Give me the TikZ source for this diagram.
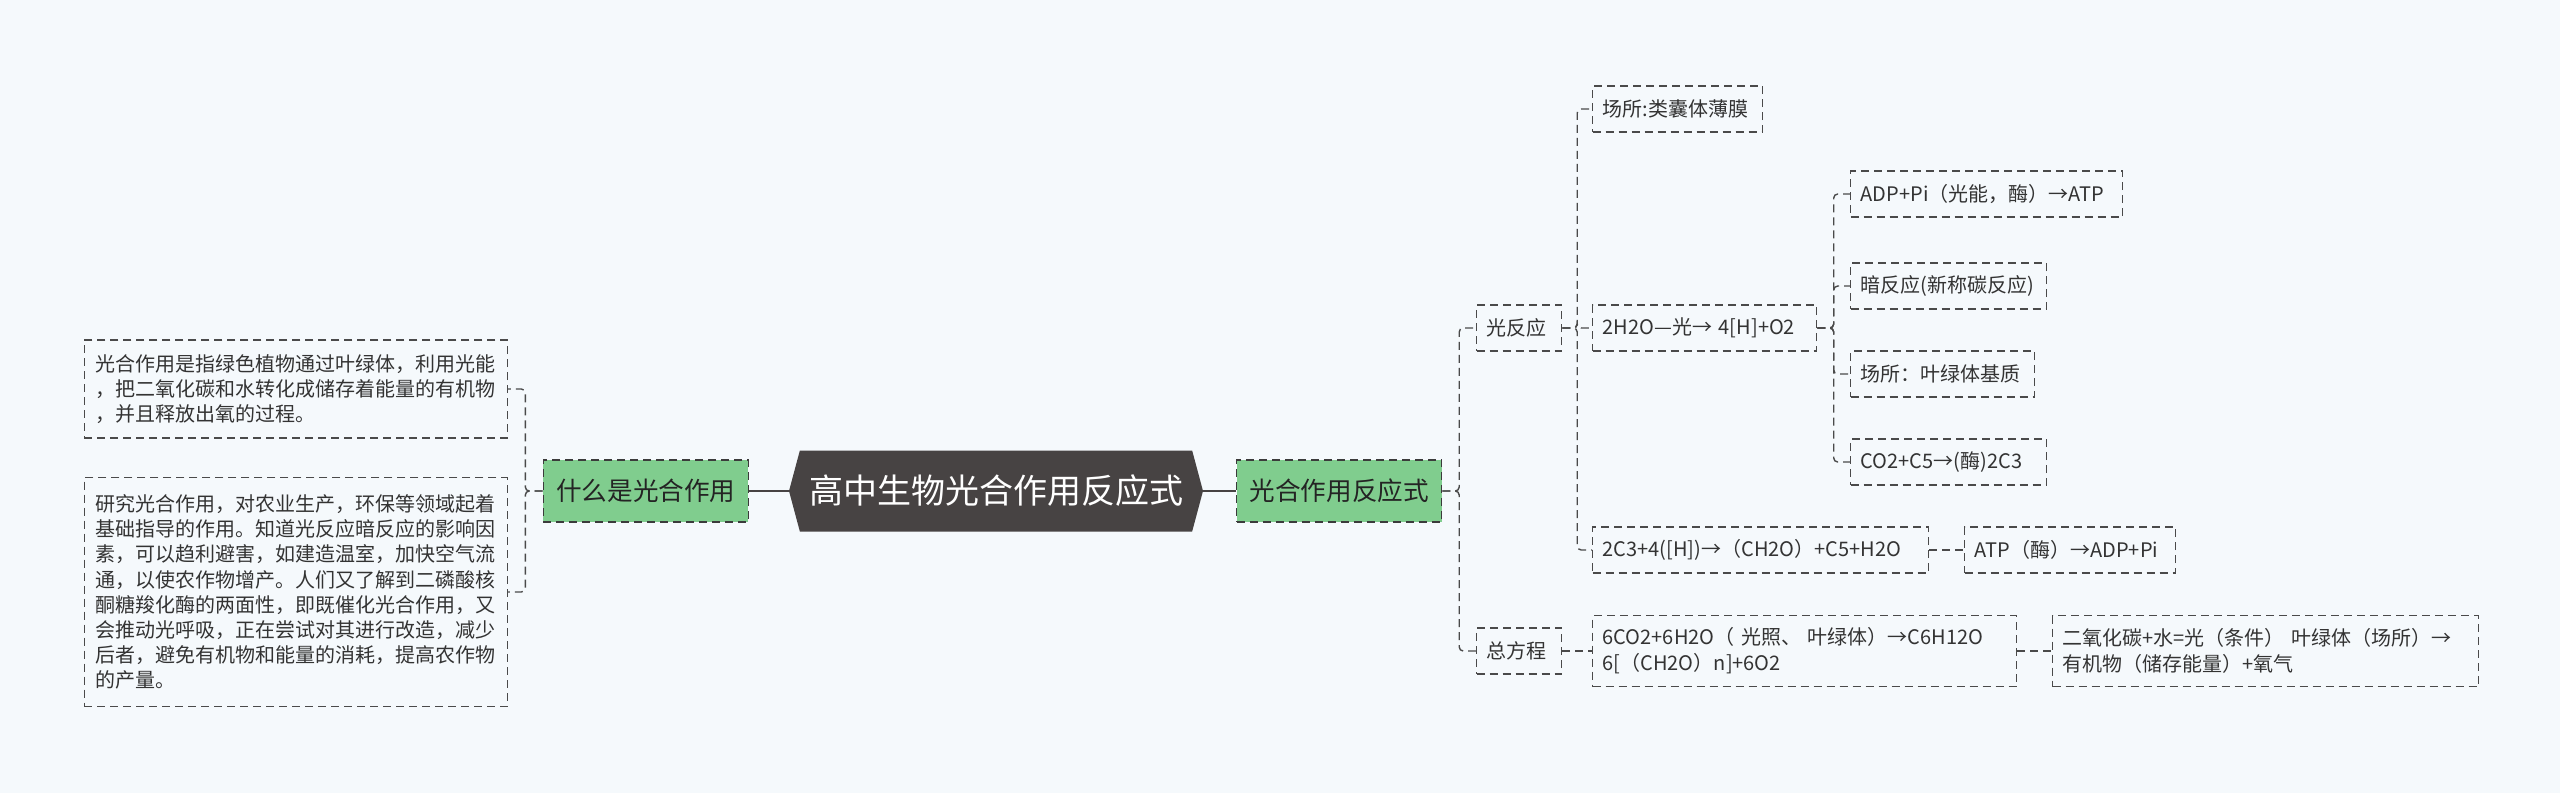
\documentclass[tikz,border=0pt]{standalone}
\usepackage{fontspec}
\setmainfont{Noto Sans CJK SC}
\usetikzlibrary{shapes.symbols,calc}
\definecolor{bgblue}{HTML}{F5F9FC}
\definecolor{leafgreen}{HTML}{80CD8E}
\definecolor{rootgray}{HTML}{474343}
\definecolor{linegray}{HTML}{4A4A4A}
\definecolor{inkgray}{HTML}{333333}

\tikzset{
  link/.style={draw=linegray, line width=0.7pt, dash pattern=on 4pt off 2.5pt, rounded corners=2pt},
  rootlink/.style={draw=rootgray, line width=1.2pt},
  elbow/.style={to path={-| ($(\tikztostart)!.5!(\tikztotarget)$) |- (\tikztotarget)}},
  topic/.style={draw=linegray, line width=0.7pt, dash pattern=on 4pt off 2.5pt,
    text=inkgray, font=\fontsize{10}{13}\selectfont, inner xsep=5pt, inner ysep=3pt,
    minimum height=23pt, align=left, anchor=west},
  note/.style={topic, anchor=east, minimum width=211.5pt, font=\fontsize{10}{12.6}\selectfont},
  branch/.style={draw=linegray!80!black, line width=0.7pt, dash pattern=on 4pt off 2.5pt,
    fill=leafgreen, text=inkgray!70!black, font=\fontsize{12.8}{15}\selectfont,
    minimum width=102.5pt, minimum height=31pt},
  rootbox/.style={signal, signal to=west and east, signal pointer angle=150,
    fill=rootgray, text=white, font=\fontsize{17}{20}\selectfont,
    minimum width=207pt, minimum height=40.5pt, inner sep=2pt}
}

\begin{document}
\begin{tikzpicture}[x=0.5pt, y=-0.5pt]
    % Background
    \fill[bgblue] (0,0) rectangle (2560,793);
    \useasboundingbox (0,0) rectangle (2560,793);
    % Centre topic
    \node[rootbox] (root) at (996,491) {高中生物光合作用反应式};
    % Left branch
    \node[branch, anchor=east] (what) at (749,491) {什么是光合作用};
    \node[note, minimum height=49pt] (def) at (508,389)
      {光合作用是指绿色植物通过叶绿体，利用光能\\
       ，把二氧化碳和水转化成储存着能量的有机物\\
       ，并且释放出氧的过程。};
    \node[note, minimum height=114.5pt] (use) at (508,592)
      {研究光合作用，对农业生产，环保等领域起着\\
       基础指导的作用。知道光反应暗反应的影响因\\
       素，可以趋利避害，如建造温室，加快空气流\\
       通，以使农作物增产。人们又了解到二磷酸核\\
       酮糖羧化酶的两面性，即既催化光合作用，又\\
       会推动光呼吸，正在尝试对其进行改造，减少\\
       后者，避免有机物和能量的消耗，提高农作物\\
       的产量。};
    % Right branch
    \node[branch, anchor=west] (react) at (1236,491) {光合作用反应式};
    \node[topic, text width=32.5pt] (light) at (1476,328) {光反应};
    \node[topic, text width=32.5pt] (total) at (1476,651) {总方程};
    % Light reaction
    \node[topic, text width=75pt] (site) at (1592,109) {场所:类囊体薄膜};
    \node[topic, text width=102pt] (water) at (1592,328) {2H2O—光→ 4[H]+O2};
    \node[topic, text width=158pt] (calvin) at (1592,550) {2C3+4([H])→（CH2O）+C5+H2O};
    \node[topic, text width=95.5pt] (atpuse) at (1964,550) {ATP（酶）→ADP+Pi};
    % Water splitting
    \node[topic, text width=126pt] (adp) at (1850,194) {ADP+Pi（光能，酶）→ATP};
    \node[topic, text width=88pt] (dark) at (1850,286) {暗反应(新称碳反应)};
    \node[topic, text width=82pt] (stroma) at (1850,374) {场所：叶绿体基质};
    \node[topic, text width=88pt] (fix) at (1850,462) {CO2+C5→(酶)2C3};
    % Overall equation
    \node[topic, minimum height=35.5pt, text width=202pt] (eq) at (1592,651)
      {6CO2+6H2O（ 光照、 叶绿体）→C6H12O\\6[（CH2O）n]+6O2};
    \node[topic, minimum height=35.5pt, text width=203pt] (words) at (2052,651)
      {二氧化碳+水=光（条件） 叶绿体（场所）→\\有机物（储存能量）+氧气};
    % Connectors
    \draw[rootlink] (root.west) -- (what.east);
    \draw[rootlink] (root.east) -- (react.west);
    \draw[link] (what.west) to[elbow] (def.east);
    \draw[link] (what.west) to[elbow] (use.east);
    \draw[link] (react.east) to[elbow] (light.west);
    \draw[link] (react.east) to[elbow] (total.west);
    \draw[link] (light.east) to[elbow] (site.west);
    \draw[link] (light.east) to[elbow] (water.west);
    \draw[link] (light.east) to[elbow] (calvin.west);
    \draw[link] (calvin.east) -- (atpuse.west);
    \draw[link] (water.east) to[elbow] (adp.west);
    \draw[link] (water.east) to[elbow] (dark.west);
    \draw[link] (water.east) to[elbow] (stroma.west);
    \draw[link] (water.east) to[elbow] (fix.west);
    \draw[link] (total.east) -- (eq.west);
    \draw[link] (eq.east) -- (words.west);
\end{tikzpicture}
\end{document}
